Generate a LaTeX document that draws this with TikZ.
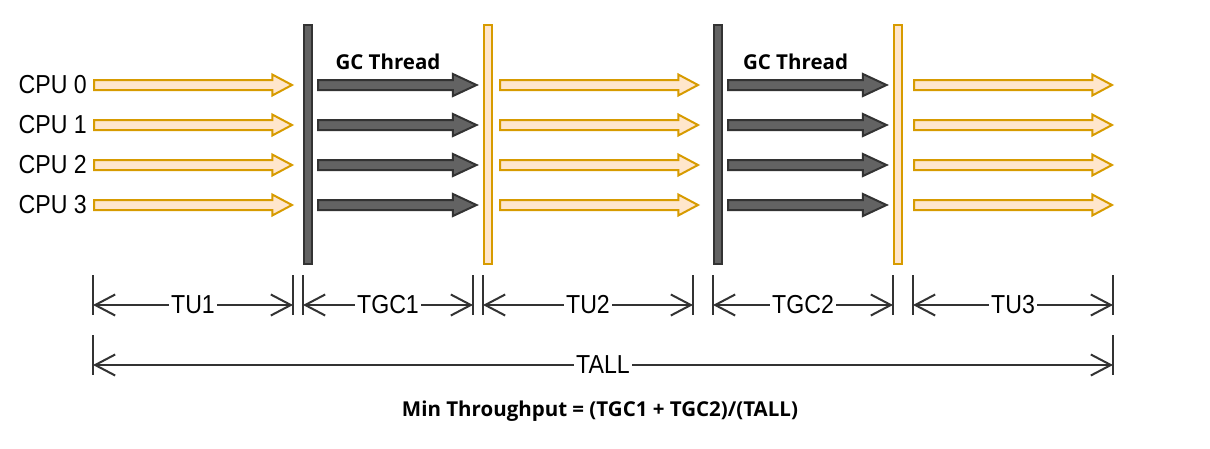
\documentclass[tikz,border=0pt]{standalone}
\usepackage{fontspec}
\setmainfont{Liberation Sans}[FakeStretch=0.89]
\newfontfamily\gcfont{Open Sans}
\usepackage{xcolor}
\definecolor{ffe6cc}{HTML}{ffe6cc}
\definecolor{d79b00}{HTML}{d79b00}
\definecolor{gcfill}{HTML}{636363}
\definecolor{gcdraw}{HTML}{333333}
\usepackage{tikz}
\usetikzlibrary{shapes.arrows}
\usetikzlibrary{arrows.meta}
\usetikzlibrary{positioning}

\begin{document}
\begin{tikzpicture}[x=1pt, y=-1pt,
    cpu/.style={font=\fontsize{26}{30}\selectfont, inner sep=0pt},
    work/.style={shape=single arrow, draw=d79b00, fill=ffe6cc, line width=2pt, inner sep=0pt, inner ysep=4pt, single arrow head extend=5.5pt, single arrow tip angle=56, minimum height=198pt, anchor=tail},
    gc/.style={work, draw=gcdraw, fill=gcfill, single arrow head extend=6pt, single arrow tip angle=50, minimum height=158.5pt},
    stw/.style={shape=rectangle, draw=gcdraw, fill=gcfill, line width=2pt, inner sep=0pt, minimum width=8pt, minimum height=239pt},
    resume/.style={stw, draw=d79b00, fill=ffe6cc},
    tick/.style={draw=gcdraw, line width=2pt},
    span/.style={draw=gcdraw, line width=2pt, {Straight Barb[length=20pt, width=21pt]}-{Straight Barb[length=20pt, width=21pt]}},
    spanlabel/.style={font=\fontsize{26}{30}\selectfont, fill=white, inner xsep=2pt, inner ysep=0pt},
    title/.style={font=\gcfont\bfseries\fontsize{20.5}{24}\selectfont, inner sep=0pt}]
    \useasboundingbox (0,0) rectangle (1210,448);

    \node[stw] (stw1) at (308,144.5) {};
    \node[resume] (res1) at (488,144.5) {};
    \node[stw] (stw2) at (717.5,144.5) {};
    \node[resume] (res2) at (897.5,144.5) {};

    \node[title] (gc1) at (388,62) {GC Thread};
    \node[title] (gc2) at (795.5,62) {GC Thread};

    \foreach \i in {0,...,3} {
        \pgfmathsetmacro\y{85+40*\i}
        \node[work] (u1-\i) at (93,\y) {};
        \node[gc] (g1-\i) at (317,\y) {};
        \node[work] (u2-\i) at (499,\y) {};
        \node[gc] (g2-\i) at (727,\y) {};
        \node[work] (u3-\i) at (913,\y) {};
        \node[cpu, left=6pt of u1-\i.tail] (cpu\i) {CPU \i};
    }

    \foreach \name/\a/\b in {TU1/93/293, TGC1/303/473, TU2/483/693, TGC2/713/893, TU3/913/1113} {
        \coordinate (\name-l) at (\a,305);
        \coordinate (\name-r) at (\b,305);
        \draw[tick] ([yshift=30pt]\name-l) -- ([yshift=-10pt]\name-l);
        \draw[tick] ([yshift=30pt]\name-r) -- ([yshift=-10pt]\name-r);
        \draw[span] (\name-l) -- node[spanlabel] {\name} (\name-r);
    }

    \coordinate (all-l) at (93,365);
    \coordinate (all-r) at (1113,365);
    \draw[tick] ([yshift=30pt]all-l) -- ([yshift=-10pt]all-l);
    \draw[tick] ([yshift=30pt]all-r) -- ([yshift=-10pt]all-r);
    \draw[span] (all-l) -- node[spanlabel] {TALL} (all-r);

    \node[title] (tp) at (600,411) {Min Throughput = (TGC1 + TGC2)/(TALL)};
\end{tikzpicture}
\end{document}
